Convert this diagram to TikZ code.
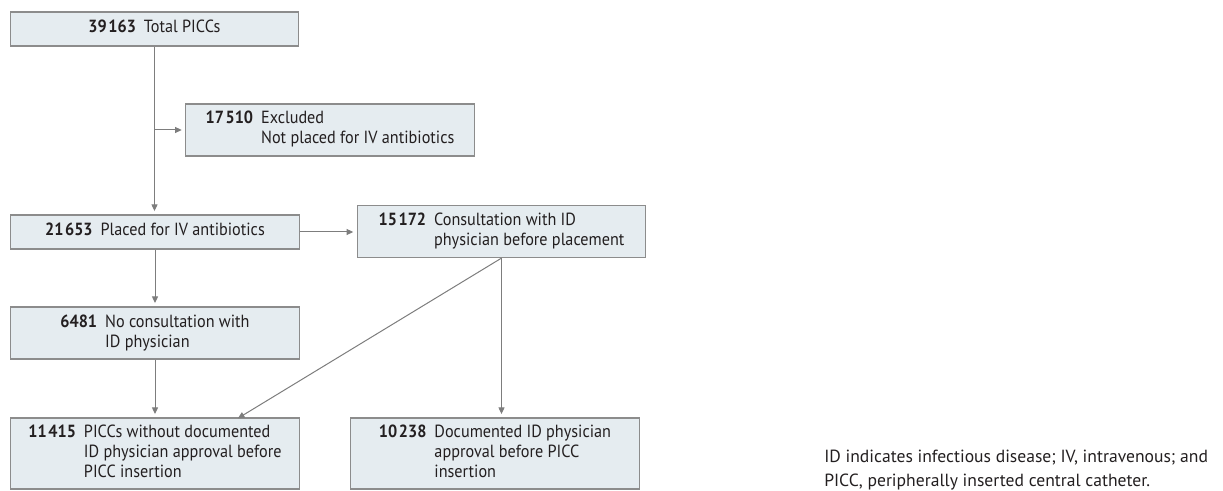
\documentclass[tikz,border=0pt]{standalone}
\usepackage{fontspec}
\setmainfont{PT Sans}[FakeStretch=0.92]
\newfontfamily\notefont{PT Sans}
\usepackage{tikz}
\usetikzlibrary{arrows.meta}

\definecolor{boxfill}{RGB}{229,236,240}
\definecolor{boxline}{RGB}{140,140,140}
\definecolor{arrowgray}{RGB}{125,125,125}
\definecolor{ink}{RGB}{35,31,32}

\newcommand{\flowentry}[2]{\begin{tabular}{@{}l@{\hspace{6pt}}l@{}}\textbf{#1} & #2\end{tabular}}
\newcommand{\thsep}{\kern1.2pt}

\tikzset{
  flowbox/.style={draw=boxline, fill=boxfill, line width=0.9pt, minimum width=216.5pt,
    inner sep=0pt, text=ink, font=\fontsize{13.2}{15}\selectfont},
  oneline/.style={minimum height=25.5pt},
  twoline/.style={minimum height=39pt},
  threeline/.style={minimum height=53.25pt},
  flowarrow/.style={draw=arrowgray, line width=0.75pt, -{Triangle[length=5pt,width=4.5pt]}, shorten >=2.5pt},
  notetext/.style={inner sep=0pt, align=left, text=ink, font=\notefont\fontsize{13.2}{18}\selectfont}
}

\begin{document}
\begin{tikzpicture}[x=0.75pt,y=0.75pt,yscale=-1,xscale=1]
        \useasboundingbox (0,0) rectangle (1223,491);

        % Boxes, first column
        \node[flowbox, oneline] (total) at (154.5,29) {\flowentry{39\thsep163}{Total PICCs}};
        \node[flowbox, oneline] (placed) at (155,232) {\flowentry{21\thsep653}{Placed for IV antibiotics}};
        \node[flowbox, twoline] (nocons) at (155,333) {\flowentry{6481}{No consultation with\\ & ID physician}};
        \node[flowbox, threeline] (woapp) at (155,453.5) {\flowentry{11\thsep415}{PICCs without documented\\ & ID physician approval before\\ & PICC insertion}};

        % Boxes, right side
        \node[flowbox, twoline] (excl) at (330,130) {\flowentry{17\thsep510}{Excluded\\ & Not placed for IV antibiotics}};
        \node[flowbox, twoline] (cons) at (501.5,231.5) {\flowentry{15\thsep172}{Consultation with ID\\ & physician before placement}};
        \node[flowbox, threeline] (app) at (495,453.5) {\flowentry{10\thsep238}{Documented ID physician\\ & approval before PICC\\ & insertion}};

        % Connectors
        \coordinate (exclbranch) at (total.south |- excl.west);
        \coordinate (diagtip) at ([xshift=60pt,yshift=2pt]woapp.north);
        \draw[flowarrow] (total.south) -- (total.south |- placed.north);
        \draw[flowarrow] (exclbranch) -- (excl.west);
        \draw[flowarrow] (placed.east) -- (placed.east -| cons.west);
        \draw[flowarrow] (placed) -- (nocons);
        \draw[flowarrow] (nocons) -- (woapp);
        \draw[flowarrow] (cons.south) -- (cons.south |- app.north);
        \draw[flowarrow] (cons.south) -- (diagtip);

        % Text Node
        \node[notetext, anchor=north west] (note) at (824,450) {ID indicates infectious disease; IV, intravenous; and\\PICC, peripherally inserted central catheter.};

    \end{tikzpicture}
\end{document}
